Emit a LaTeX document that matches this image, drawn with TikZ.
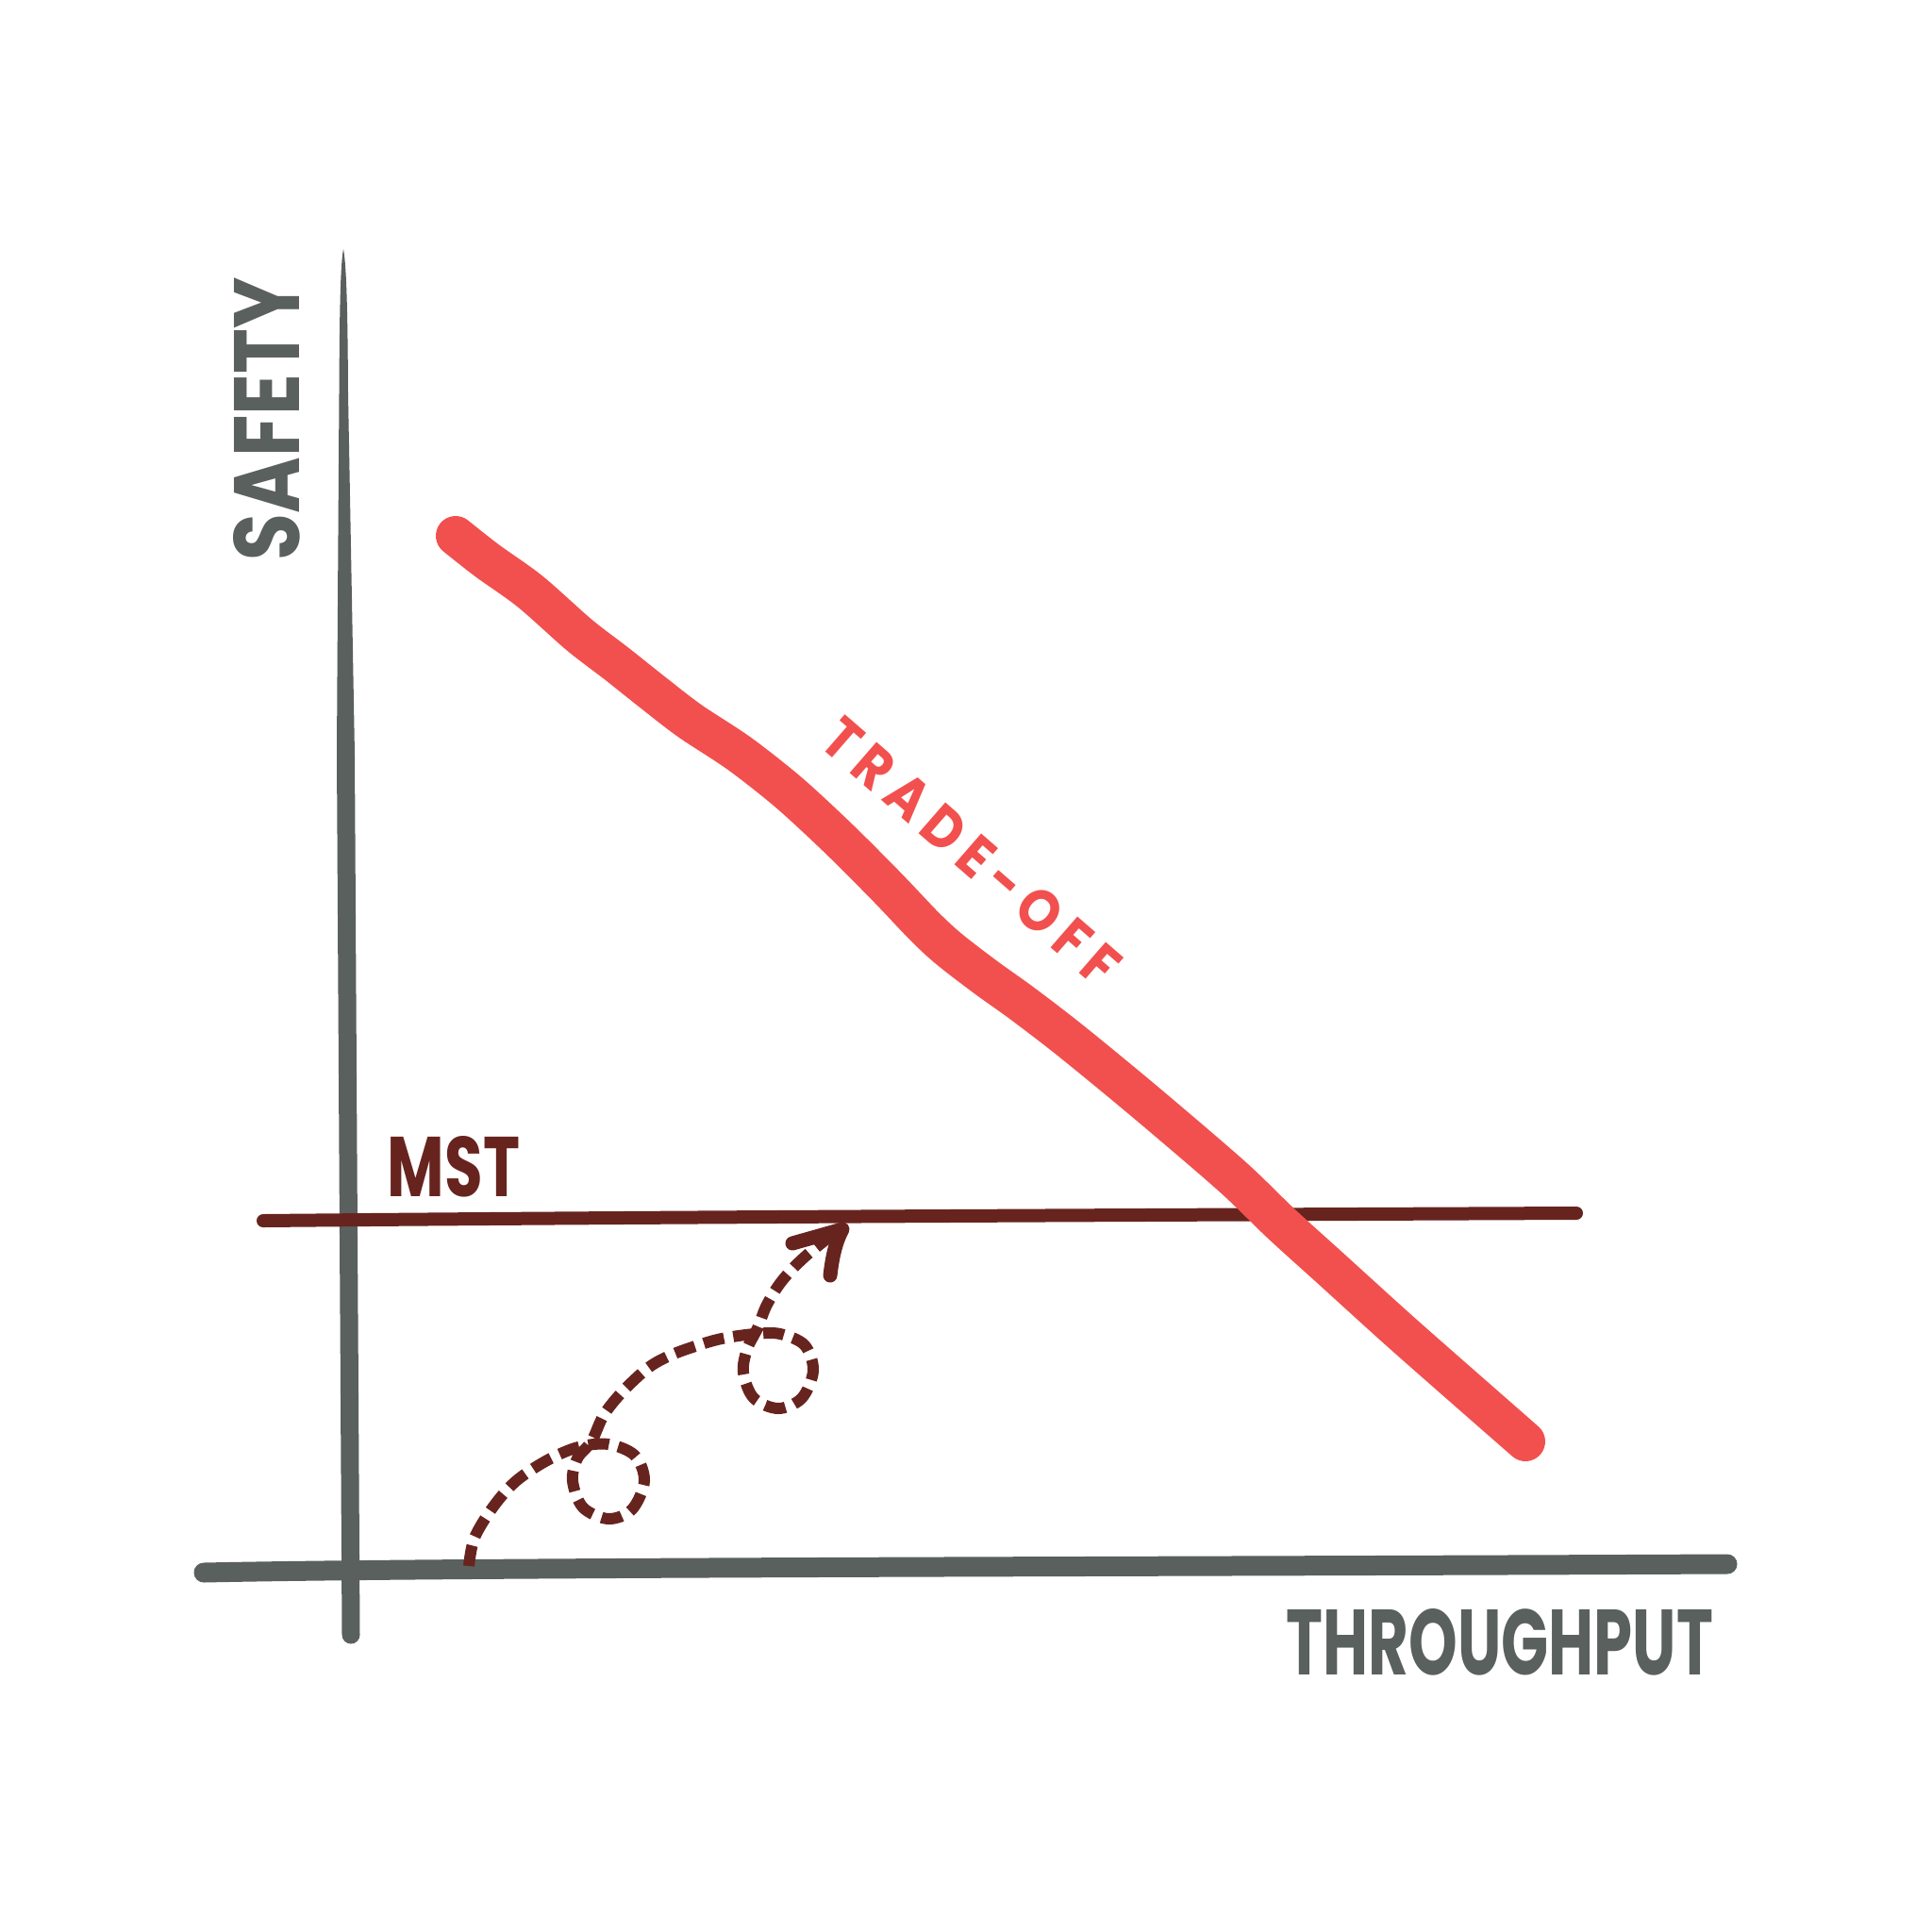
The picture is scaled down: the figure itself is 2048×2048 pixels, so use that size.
\documentclass[tikz,border=0pt]{standalone}
\usepackage{fontspec}
\setmainfont{Poppins}
\usepackage{graphicx}
\definecolor{axisgray}{HTML}{5A605D}
\definecolor{tored}{HTML}{F2504E}
\definecolor{mstbrown}{HTML}{67241E}
\begin{document}
\begin{tikzpicture}[x=1pt,y=-1pt,
  axisline/.style={draw=axisgray, line width=19pt, line cap=round, line join=round},
  mstline/.style={draw=mstbrown, line width=14pt, line cap=round, line join=round},
  tradeline/.style={draw=tored, line width=42pt, line cap=round, line join=round},
  dashpath/.style={draw=mstbrown, line width=12pt, dash pattern=on 22pt off 10pt},
  arrowhd/.style={draw=mstbrown, line width=15pt, line cap=round, line join=round},
  lbl/.style={inner sep=0pt, font=\bfseries}]
\useasboundingbox (0,0) rectangle (2048,2048);
\fill[white] (0,0) rectangle (2048,2048);

% coordinates
\coordinate (ytop) at (364,264);
\coordinate (ymid) at (366.5,800);
\coordinate (ybot) at (372,1733);
\coordinate (xl) at (216,1667);
\coordinate (xr) at (1831,1658);
\coordinate (ml) at (279,1294);
\coordinate (mr) at (1671,1286);

% Y axis (tapered top)
\fill[axisgray] (ytop) .. controls (361,280) and (360,320) .. (359.5,417) -- (357.5,717) -- (357,800) -- (376,800) -- (374.5,717) -- (369,417) .. controls (368.5,320) and (367,280) .. (ytop) -- cycle;
\draw[axisline] (ymid) -- (ybot);

% X axis
\draw[axisline, line width=21pt] (xl) .. controls (500,1661) and (1200,1661) .. (xr);

% MST line
\draw[mstline] (ml) .. controls (700,1290) and (1200,1288) .. (mr);

% Trade-off curve
\draw[tradeline] plot[smooth, tension=0.5] coordinates {
 (483,568) (516,594) (562,627) (614,673) (653,703) (692,734) (731,764)
 (784,799) (836,840) (888,888) (940,940) (980,982) (1006,1006) (1045,1036)
 (1084,1064) (1136,1104) (1215,1169) (1306,1247) (1358,1297) (1411,1345)
 (1476,1404) (1528,1450) (1617,1528)};

% dashed path with loops
\coordinate (start) at (497,1660);
\coordinate (tip) at (893,1303);
\draw[dashpath] plot[smooth, tension=0.55] coordinates {
 (497,1660) (503,1630) (523,1597) (547,1570) (580,1548) (613,1534) (645,1531)
 (673,1543) (683,1570) (670,1600) (645,1610) (618,1598) (607,1570) (612,1546)
 (627,1528) (640,1500) (660,1475) (687,1450) (710,1437) (737,1427) (765,1419)
 (800,1414) (827,1414) (853,1426) (862,1453) (850,1482) (825,1493) (799,1482)
 (788,1455) (792,1430) (803,1408) (812,1385) (825,1363) (840,1345) (858,1328) (882,1309)};
\draw[arrowhd] (840,1318) -- (tip) .. controls (885,1318) and (882,1335) .. (880,1352);

% labels
\node[lbl, text=axisgray, rotate=90] (safety) at (283,444) {\resizebox{300pt}{70pt}{SAFETY}};
\node[lbl, text=axisgray] (throughput) at (1590,1741) {\resizebox{452pt}{70pt}{THROUGHPUT}};
\node[lbl, text=mstbrown] (mst) at (481,1237) {\resizebox{140pt}{64pt}{MST}};
\node[lbl, text=tored, rotate=-41] (tradeoff) at (1030,903) {\resizebox{395pt}{44pt}{\addfontfeatures{LetterSpace=18}TRADE-OFF}};
\end{tikzpicture}
\end{document}
